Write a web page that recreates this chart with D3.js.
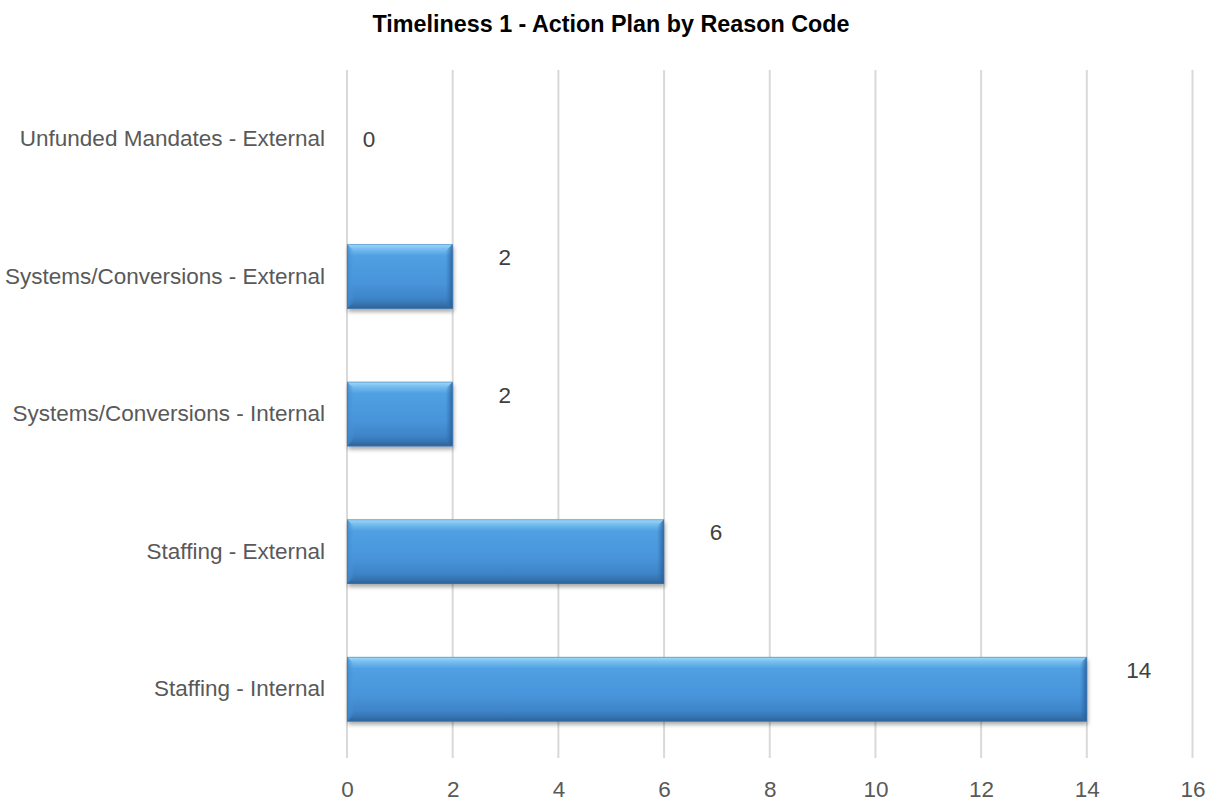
<!DOCTYPE html>
<html>
<head>
<meta charset="utf-8">
<script src="https://cdn.jsdelivr.net/npm/d3@7"></script>
<style>
  html, body { margin: 0; padding: 0; background: #fff; }
  svg { display: block; }
</style>
</head>
<body>
<svg id="chart" width="1214" height="801"></svg>
<script>
// Reason codes (top to bottom) and the number of action plans for each
const categories = [
  "Unfunded Mandates - External",
  "Systems/Conversions - External",
  "Systems/Conversions - Internal",
  "Staffing - External",
  "Staffing - Internal"
];
const counts = [0, 2, 2, 6, 14];
const xTicks = [0, 2, 4, 6, 8, 10, 12, 14, 16];
const chartTitle = "Timeliness 1 - Action Plan by Reason Code";

const data = categories.map((c, i) => ({ category: c, value: counts[i] }));

const svg = d3.select("#chart");
const plot = { left: 347, right: 1192.5, top: 70, bottom: 758 };
const font = "'Liberation Sans', Arial, sans-serif";

const x = d3.scaleLinear().domain([0, 16]).range([plot.left, plot.right]);
const y = d3.scaleBand().domain(categories).range([plot.top, plot.bottom])
  .paddingInner(0.53).paddingOuter(0.265);

const defs = svg.append("defs");

// Main body gradient of the bars (light top rim, blue body, darker base)
const g1 = defs.append("linearGradient").attr("id", "barFill")
  .attr("x1", 0).attr("y1", 0).attr("x2", 0).attr("y2", 1);
[[0, "#a4dcfa"], [0.07, "#78c0f0"], [0.18, "#50a0e3"], [0.6, "#4894da"],
 [0.84, "#3e84c8"], [0.93, "#3573b0"], [1, "#2b6195"]]
  .forEach(([o, c]) => g1.append("stop").attr("offset", o).attr("stop-color", c));

// Right edge bevel
const g2 = defs.append("linearGradient").attr("id", "rightEdge")
  .attr("x1", 0).attr("y1", 0).attr("x2", 1).attr("y2", 0);
g2.append("stop").attr("offset", 0).attr("stop-color", "#2d6aa6").attr("stop-opacity", 0);
g2.append("stop").attr("offset", 1).attr("stop-color", "#245b92").attr("stop-opacity", 0.85);

// Left edge bevel
const g3 = defs.append("linearGradient").attr("id", "leftEdge")
  .attr("x1", 0).attr("y1", 0).attr("x2", 1).attr("y2", 0);
g3.append("stop").attr("offset", 0).attr("stop-color", "#3d86cc").attr("stop-opacity", 0.9);
g3.append("stop").attr("offset", 1).attr("stop-color", "#4b9be0").attr("stop-opacity", 0);

// Soft shadow under each bar
const shadow = defs.append("filter").attr("id", "barShadow")
  .attr("x", "-5%").attr("y", "-20%").attr("width", "115%").attr("height", "150%");
shadow.append("feGaussianBlur").attr("in", "SourceAlpha").attr("stdDeviation", 2.2).attr("result", "b");
shadow.append("feOffset").attr("in", "b").attr("dx", 1).attr("dy", 3).attr("result", "o");
shadow.append("feComponentTransfer").attr("in", "o").attr("result", "s")
  .append("feFuncA").attr("type", "linear").attr("slope", 0.35);
const merge = shadow.append("feMerge");
merge.append("feMergeNode").attr("in", "s");
merge.append("feMergeNode").attr("in", "SourceGraphic");

// Title
svg.append("text")
  .attr("x", 611).attr("y", 32)
  .attr("text-anchor", "middle")
  .attr("font-family", font)
  .attr("font-weight", "bold")
  .attr("font-size", 23)
  .attr("textLength", 477).attr("lengthAdjust", "spacingAndGlyphs")
  .attr("fill", "#000")
  .text(chartTitle);

// Vertical gridlines
svg.append("g").selectAll("line").data(xTicks).join("line")
  .attr("x1", d => x(d)).attr("x2", d => x(d))
  .attr("y1", plot.top).attr("y2", plot.bottom)
  .attr("stroke", "#d9d9d9").attr("stroke-width", 2);

// X axis tick labels
const xAxis = d3.axisBottom(x).tickValues(xTicks).tickSize(0).tickPadding(0);
const xg = svg.append("g").attr("transform", `translate(0, 797)`).call(xAxis);
xg.select(".domain").remove();
xg.selectAll("text")
  .attr("dy", 0).attr("y", 0)
  .attr("font-family", font)
  .attr("font-size", 22.5).attr("fill", "#595959");

// Y axis category labels
const yAxis = d3.axisLeft(y).tickSize(0).tickPadding(0);
const yg = svg.append("g").attr("transform", `translate(325, 0)`).call(yAxis);
yg.select(".domain").remove();
yg.selectAll("text")
  .attr("font-family", font)
  .attr("font-size", 22.5).attr("fill", "#595959");

// Bars
const bars = svg.append("g").selectAll("g.bar").data(data.filter(d => d.value > 0)).join("g")
  .attr("class", "bar");

bars.append("rect")
  .attr("x", d => x(0)).attr("y", d => y(d.category))
  .attr("width", d => x(d.value) - x(0)).attr("height", y.bandwidth())
  .attr("fill", "url(#barFill)")
  .attr("filter", "url(#barShadow)");

const bev = 7;
// right bevel trapezoid
bars.append("path")
  .attr("d", d => {
    const x1 = x(d.value), y0 = y(d.category), h = y.bandwidth();
    return `M${x1},${y0} L${x1},${y0 + h} L${x1 - bev},${y0 + h - bev} L${x1 - bev},${y0 + bev} Z`;
  })
  .attr("fill", "url(#rightEdge)");
// left bevel trapezoid
bars.append("path")
  .attr("d", d => {
    const x0 = x(0), y0 = y(d.category), h = y.bandwidth();
    return `M${x0},${y0} L${x0 + bev},${y0 + bev} L${x0 + bev},${y0 + h - bev} L${x0},${y0 + h} Z`;
  })
  .attr("fill", "url(#leftEdge)");
// thin outline
bars.append("rect")
  .attr("x", d => x(0) + 0.5).attr("y", d => y(d.category) + 0.5)
  .attr("width", d => x(d.value) - x(0) - 1).attr("height", y.bandwidth() - 1)
  .attr("fill", "none").attr("stroke", "#3a78b8").attr("stroke-opacity", 0.5);

// Value labels
svg.append("g").selectAll("text").data(data).join("text")
  .attr("x", d => d.value > 0 ? x(d.value) + 52 : x(0) + 22)
  .attr("y", d => y(d.category) + y.bandwidth() / 2 + (d.value > 0 ? -19 : 0))
  .attr("dy", "0.35em")
  .attr("text-anchor", "middle")
  .attr("font-family", font)
  .attr("font-size", 22.5).attr("fill", "#404040")
  .text(d => d.value);
</script>
</body>
</html>
